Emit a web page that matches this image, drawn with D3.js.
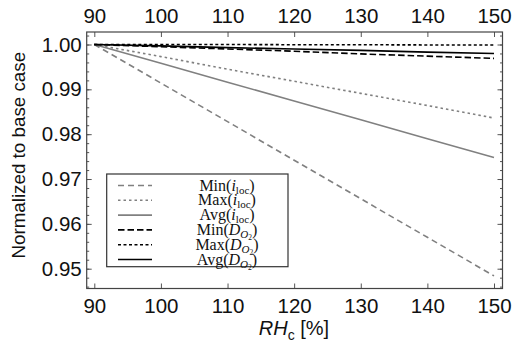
<!DOCTYPE html>
<html>
<head>
<meta charset="utf-8">
<script src="https://cdn.jsdelivr.net/npm/d3@7"></script>
<style>
  body { margin: 0; background: #fff; }
  svg { display: block; }
</style>
</head>
<body>
<div id="chart"></div>
<script>
// RH_c values on the x axis
var rh = [90, 100, 110, 120, 130, 140, 150];

// normalized values
var minIloc = [1.0, 0.9914, 0.9828, 0.9742, 0.9656, 0.9570, 0.9484];
var maxIloc = [1.0, 0.9973, 0.9945, 0.9918, 0.9891, 0.9864, 0.9836];
var avgIloc = [1.0, 0.9958, 0.9916, 0.9874, 0.9832, 0.9790, 0.9748];
var minDo2  = [1.0, 0.9995, 0.9990, 0.9985, 0.9979, 0.9974, 0.9969];
var maxDo2  = [1.0, 1.0, 1.0, 0.99995, 0.99995, 0.9999, 0.9999];
var avgDo2  = [1.0, 0.9997, 0.9993, 0.9990, 0.9987, 0.9983, 0.9980];

var xTicks = [90, 100, 110, 120, 130, 140, 150];
var yTicks = [0.95, 0.96, 0.97, 0.98, 0.99, 1.00];

var W = 513, H = 358;
var frame = {left: 86.7, right: 502.5, top: 32, bottom: 288.5};

var svg = d3.select("#chart").append("svg")
  .attr("width", W).attr("height", H);

var x = d3.scaleLinear().domain([90, 150]).range([94.3, 494]);
var y = d3.scaleLinear().domain([0.95, 1.0]).range([268.7, 44.5]);

var minorY = d3.range(0.946, 1.0025, 0.002);

var tickCol = "#555";
var fontSans = "Liberation Sans, Arial, sans-serif";

// left axis
svg.append("g").attr("transform", "translate(" + frame.left + ",0)")
  .call(d3.axisLeft(y).tickValues(yTicks).tickFormat(d3.format(".2f"))
        .tickSizeInner(-5).tickSizeOuter(0).tickPadding(5));
svg.append("g").attr("transform", "translate(" + frame.left + ",0)")
  .call(d3.axisLeft(y).tickValues(minorY).tickFormat("")
        .tickSizeInner(-2.5).tickSizeOuter(0));
// right axis
svg.append("g").attr("transform", "translate(" + frame.right + ",0)")
  .call(d3.axisRight(y).tickValues(yTicks).tickFormat("")
        .tickSizeInner(-5).tickSizeOuter(0));
svg.append("g").attr("transform", "translate(" + frame.right + ",0)")
  .call(d3.axisRight(y).tickValues(minorY).tickFormat("")
        .tickSizeInner(-2.5).tickSizeOuter(0));
// bottom axis
svg.append("g").attr("transform", "translate(0," + frame.bottom + ")")
  .call(d3.axisBottom(x).tickValues(xTicks)
        .tickSizeInner(-5).tickSizeOuter(0).tickPadding(10));
// top axis
svg.append("g").attr("transform", "translate(0," + frame.top + ")")
  .call(d3.axisTop(x).tickValues(xTicks)
        .tickSizeInner(-5).tickSizeOuter(0).tickPadding(9));

svg.selectAll(".domain").remove();
svg.selectAll(".tick line").attr("stroke", tickCol).attr("stroke-width", 1);
svg.selectAll(".tick text")
  .attr("fill", "#111")
  .style("font-family", fontSans)
  .style("font-size", "20.5px");

// frame
svg.append("rect")
  .attr("x", frame.left).attr("y", frame.top)
  .attr("width", frame.right - frame.left)
  .attr("height", frame.bottom - frame.top)
  .attr("fill", "none").attr("stroke", "#444").attr("stroke-width", 1.2);

// axis titles
svg.append("text")
  .attr("transform", "translate(25," + ((frame.top + frame.bottom) / 2 - 5) + ")rotate(-90)")
  .attr("text-anchor", "middle")
  .style("font-family", fontSans).style("font-size", "18.8px")
  .attr("fill", "#111")
  .text("Normalized to base case");

var xt = svg.append("text")
  .attr("x", 294).attr("y", 335)
  .attr("text-anchor", "middle")
  .style("font-family", fontSans).style("font-size", "20px")
  .attr("fill", "#111");
xt.append("tspan").style("font-style", "italic").text("RH");
xt.append("tspan").attr("dy", 5).style("font-size", "14px").text("c");
xt.append("tspan").attr("dy", -5).text(" [%]");

// series
var series = [
  {name: "Min", sub: "iloc", vals: minIloc, color: "#808080", dash: "6,4"},
  {name: "Max", sub: "iloc", vals: maxIloc, color: "#808080", dash: "2.5,3"},
  {name: "Avg", sub: "iloc", vals: avgIloc, color: "#808080", dash: null},
  {name: "Min", sub: "do2", vals: minDo2, color: "#000", dash: "6.5,3"},
  {name: "Max", sub: "do2", vals: maxDo2, color: "#000", dash: "3,2.5"},
  {name: "Avg", sub: "do2", vals: avgDo2, color: "#000", dash: null}
];

var line = d3.line()
  .x(function(d, i) { return x(rh[i]); })
  .y(function(d) { return y(d); });

svg.append("g").selectAll("path")
  .data(series)
  .enter().append("path")
    .attr("d", function(d) { return line(d.vals); })
    .attr("fill", "none")
    .attr("stroke", function(d) { return d.color; })
    .attr("stroke-width", 1.6)
    .attr("stroke-dasharray", function(d) { return d.dash; });

// legend
var lg = svg.append("g");
lg.append("rect")
  .attr("x", 106.7).attr("y", 174)
  .attr("width", 288 - 106.7).attr("height", 266.7 - 174)
  .attr("fill", "#fff").attr("stroke", "#333").attr("stroke-width", 1.2);

var rowY0 = 185.5, rowH = 14.8;
series.forEach(function(s, i) {
  var yy = rowY0 + i * rowH;
  lg.append("line")
    .attr("x1", 118).attr("x2", 152)
    .attr("y1", yy).attr("y2", yy)
    .attr("stroke", s.color).attr("stroke-width", 1.6)
    .attr("stroke-dasharray", s.dash);
  var t = lg.append("text")
    .attr("x", 227).attr("y", yy + 5)
    .attr("text-anchor", "middle")
    .style("font-family", "Liberation Serif, Times New Roman, serif")
    .style("font-size", "16px")
    .attr("fill", "#111");
  t.append("tspan").text(s.name + "(");
  if (s.sub == "iloc") {
    t.append("tspan").style("font-style", "italic").text("i");
    t.append("tspan").attr("dy", 3).style("font-size", "11px").text("loc");
    t.append("tspan").attr("dy", -3).text(")");
  } else {
    t.append("tspan").style("font-style", "italic").text("D");
    t.append("tspan").attr("dy", 3).style("font-size", "11px").style("font-style", "italic").text("O");
    t.append("tspan").attr("dy", 2).style("font-size", "7.5px").text("2");
    t.append("tspan").attr("dy", -5).text(")");
  }
});
</script>
</body>
</html>
